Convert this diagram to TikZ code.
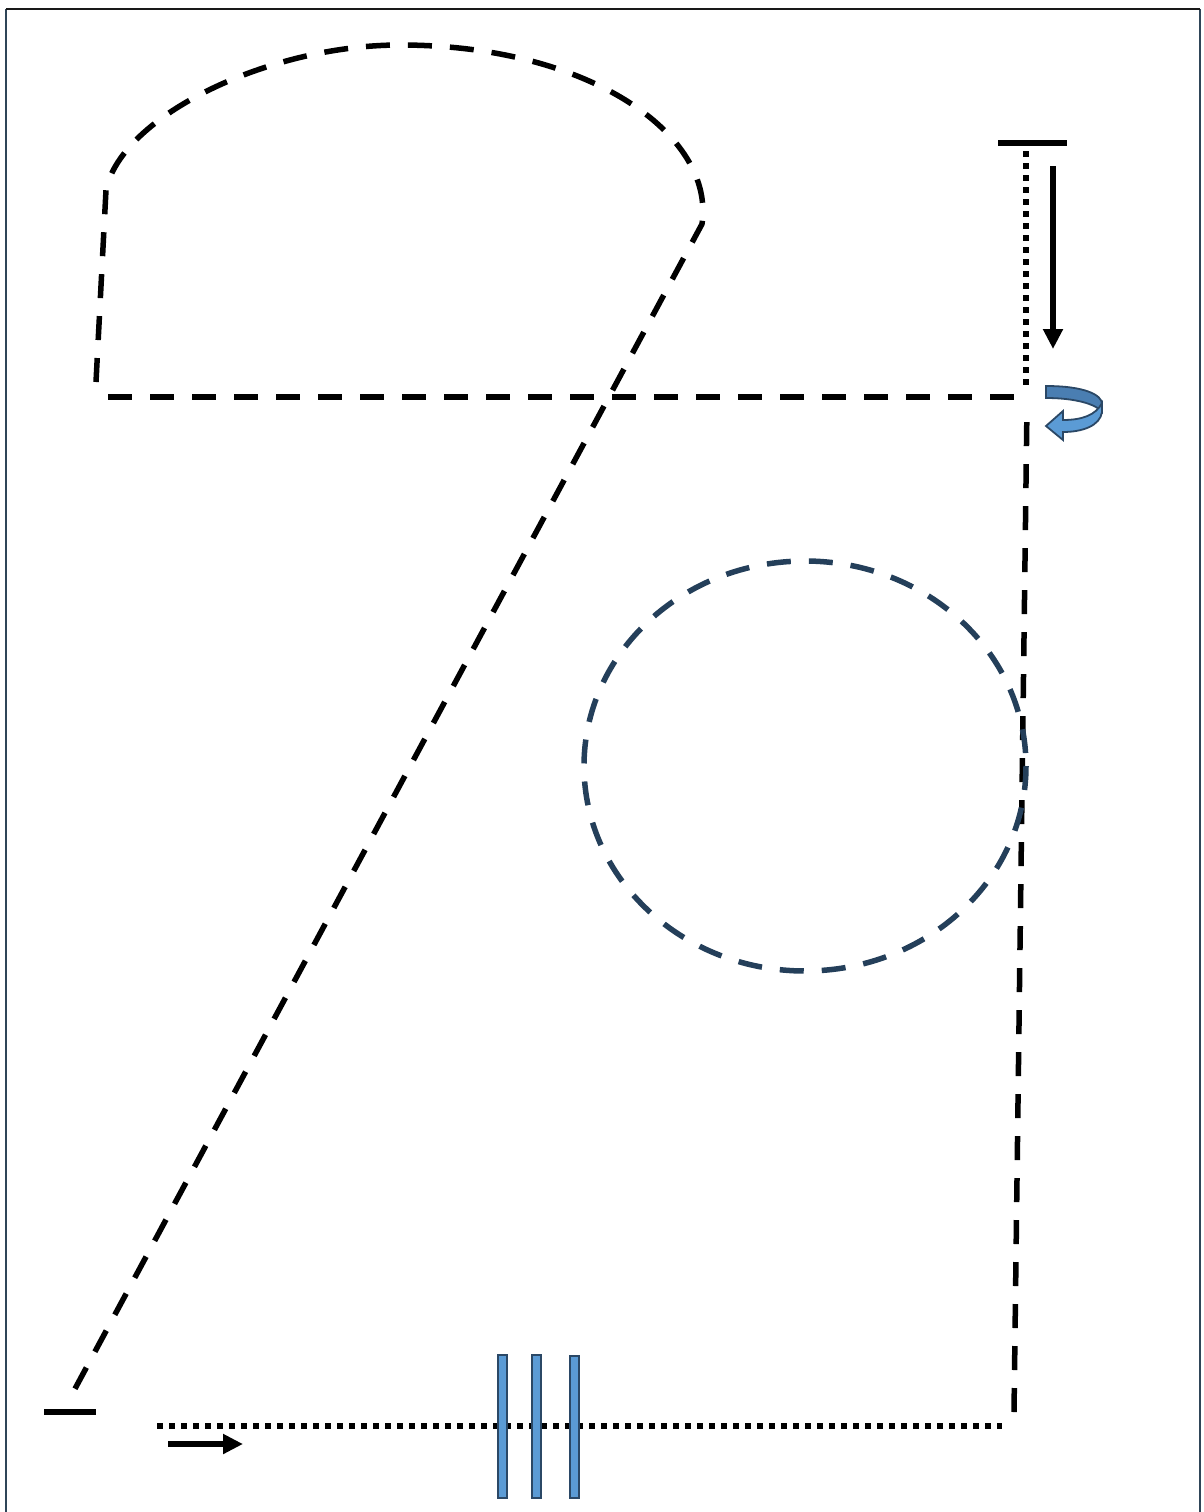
\documentclass[tikz,border=0pt]{standalone}
\usetikzlibrary{arrows.meta}
\definecolor{frameC}{HTML}{2F4558}
\definecolor{circC}{HTML}{243F5A}
\definecolor{barFill}{HTML}{5B9BD5}
\definecolor{barEdge}{HTML}{2B4866}
\definecolor{bandDark}{HTML}{4A7EB2}
\tikzset{
  dashline/.style={line width=5.5pt, dash pattern=on 24pt off 18pt},
  dotline/.style={line width=5.5pt, dash pattern=on 5.5pt off 6.5pt},
  solidbar/.style={line width=6pt},
  bluebar/.style={fill=barFill, draw=barEdge, line width=2.2pt},
  bigarrow/.style={line width=5.5pt, -{Triangle[length=20pt,width=19pt]}},
  framel/.style={draw=frameC, line width=2.2pt}
}
\begin{document}
\begin{tikzpicture}[x=1pt,y=-1pt]
\useasboundingbox (0,0) rectangle (1203,1512);
% frame
\draw[framel] (6,1512) -- (6,9);
\draw[framel] (1200,1512) -- (1200,9);
\draw[line width=2.2pt, black!90] (6,9) -- (1200,9);
% coordinates
\coordinate (tl) at (96,382);
\coordinate (tc) at (106,190);
\coordinate (tt) at (400,45);
\coordinate (tr) at (702,224);
\coordinate (bl) at (70,1398);
\coordinate (hl) at (108,397);
\coordinate (hr) at (1026,397);
\coordinate (vt) at (1027,405);
\coordinate (vb) at (1014,1412);
% teardrop loop
\draw[dashline] (tl) -- (tc) .. controls (122,115) and (270,45) .. (tt)
  .. controls (590,45) and (715,135) .. (tr) -- (bl);
\draw[dashline] (hl) -- (hr);
\draw[dashline] (vb) -- (vt);
% dashed circle
\draw[dashline, draw=circC] (805,766) ellipse [x radius=221, y radius=205];
% bottom dotted line
\coordinate (dl) at (157,1426);
\coordinate (dr) at (1002,1426);
\draw[dotline] (dl) -- (dr);
% bottom-left bar
\draw[solidbar] (44,1412) -- (96,1412);
% bottom arrow
\coordinate (a1) at (168,1444);
\coordinate (a2) at (243,1444);
\draw[bigarrow] (a1) -- (a2);
% blue bars
\draw[bluebar] (498,1355) rectangle (507,1498);
\draw[bluebar] (532,1355) rectangle (541,1498);
\draw[bluebar] (570,1356) rectangle (579,1498);
% top right bar
\draw[solidbar] (998,143) -- (1067,143);
\coordinate (dt) at (1026,151);
\coordinate (db) at (1026,386);
\draw[dotline] (dt) -- (db);
\coordinate (r1) at (1053,166);
\coordinate (r2) at (1053,349);
\draw[bigarrow] (r1) -- (r2);
% circular arrow icon
\draw[draw=barEdge, line width=1.8pt, fill=bandDark]
  (1046,386) .. controls (1085,386) and (1102,395) .. (1102,404)
  -- (1102,412) .. controls (1096,404) and (1075,398) .. (1046,398) -- cycle;
\draw[draw=barEdge, line width=1.8pt, fill=barFill]
  (1102,403) -- (1102,412) .. controls (1100,426) and (1082,432) .. (1063,432)
  -- (1063,440) -- (1046,426) -- (1063,411) -- (1063,420)
  .. controls (1082,420) and (1096,415) .. (1102,403) -- cycle;
\end{tikzpicture}
\end{document}
